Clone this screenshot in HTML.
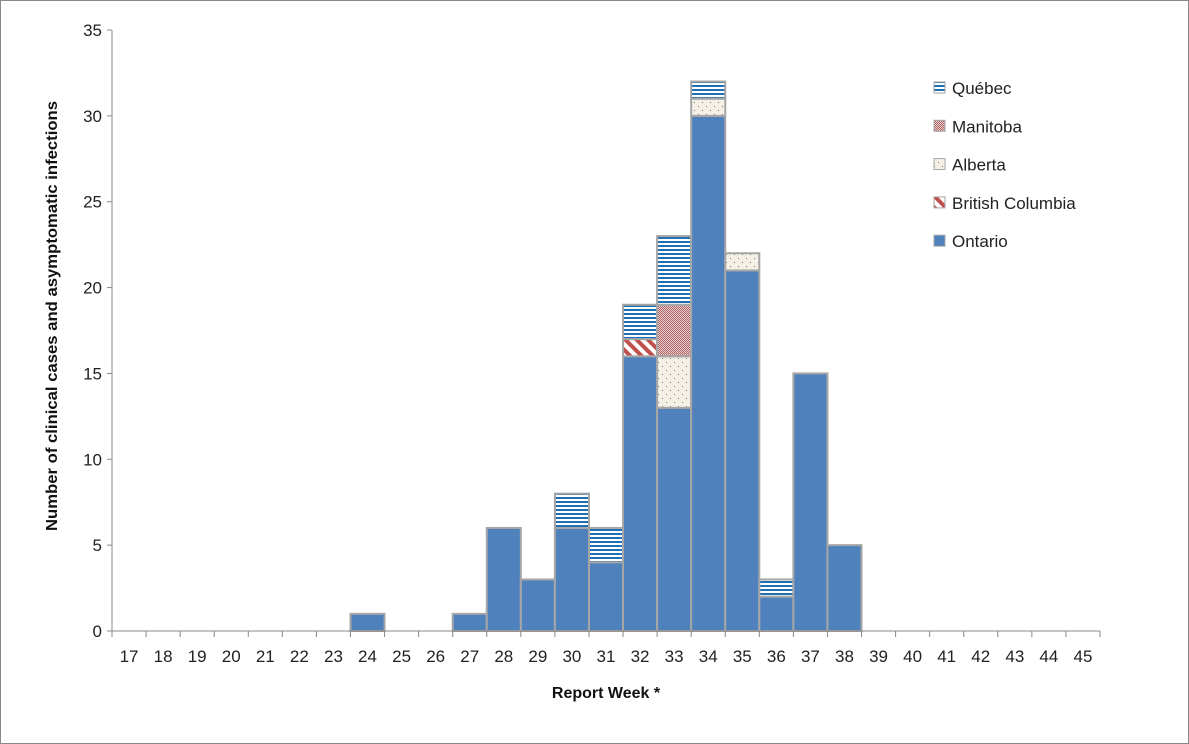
<!DOCTYPE html>
<html><head><meta charset="utf-8"><style>
body{margin:0;background:#fff}
#wrap{position:relative;width:1189px;height:744px;border:1px solid #888;box-sizing:border-box;overflow:hidden}
text{font-family:"Liberation Sans",sans-serif}
</style></head><body>
<div id="wrap">
<svg id="chart" width="1187" height="742">
<defs>
<pattern id="pQ" width="4" height="4" patternUnits="userSpaceOnUse"><rect width="4" height="4" fill="#fff"/><rect width="4" height="2" fill="#1f6fb4"/></pattern>
<pattern id="pM" width="2" height="2" patternUnits="userSpaceOnUse"><rect width="2" height="2" fill="#e6d2d2"/><rect width="1" height="1" fill="#b06060"/><rect x="1" y="1" width="1" height="1" fill="#b06060"/></pattern>
<pattern id="pA" width="8" height="8" patternUnits="userSpaceOnUse"><rect width="8" height="8" fill="#f5f0e6"/><rect x="1" y="1" width="1" height="1" fill="#777"/><rect x="5" y="5" width="1" height="1" fill="#777"/></pattern>
<pattern id="pB" width="8" height="8" patternUnits="userSpaceOnUse" patternTransform="rotate(-45)"><rect width="8" height="8" fill="#fff"/><rect width="4" height="8" fill="#c0504d"/></pattern>
</defs>
<g id="plot"></g>
</svg>
</div>
<script>
const weeks=[17,18,19,20,21,22,23,24,25,26,27,28,29,30,31,32,33,34,35,36,37,38,39,40,41,42,43,44,45];
const ontario=[0,0,0,0,0,0,0,1,0,0,1,6,3,6,4,16,13,30,21,2,15,5,0,0,0,0,0,0,0];
const bc=[0,0,0,0,0,0,0,0,0,0,0,0,0,0,0,1,0,0,0,0,0,0,0,0,0,0,0,0,0];
const alberta=[0,0,0,0,0,0,0,0,0,0,0,0,0,0,0,0,3,1,1,0,0,0,0,0,0,0,0,0,0];
const manitoba=[0,0,0,0,0,0,0,0,0,0,0,0,0,0,0,0,3,0,0,0,0,0,0,0,0,0,0,0,0];
const quebec=[0,0,0,0,0,0,0,0,0,0,0,0,0,2,2,2,4,1,0,1,0,0,0,0,0,0,0,0,0];
const yTicks=[0,5,10,15,20,25,30,35];
const seriesNames=["Ontario","British Columbia","Alberta","Manitoba","Québec"];
const series=[ontario,bc,alberta,manitoba,quebec];
const fills=["#4f81bd","url(#pB)","url(#pA)","url(#pM)","url(#pQ)"];
const X0=111,X1=1099,Y0=630,Y1=29,YMAX=35;
const bw=(X1-X0)/weeks.length;
const x=i=>X0+i*bw;
const y=v=>Y0-(v/YMAX)*(Y0-Y1);
const g=document.getElementById('plot');
const NS="http://www.w3.org/2000/svg";
function el(t,a,p){const e=document.createElementNS(NS,t);for(const k in a)e.setAttribute(k,a[k]);(p||g).appendChild(e);return e;}
let ax=el('line',{x1:X0,y1:Y1,x2:X0,y2:Y0,stroke:'#888'});

yTicks.forEach(t=>{
 const tl=el('line',{x1:X0-5,y1:y(t),x2:X0,y2:y(t),stroke:'#888'});
 
 const tx=el('text',{x:X0-10,y:y(t)+6,'text-anchor':'end','font-size':17,fill:'#222'});
 tx.textContent=t;
 
});
weeks.forEach((w,i)=>{
 let acc=0;
 series.forEach((s,k)=>{
  if(s[i]>0){
   const r=el('rect',{x:x(i),y:y(acc+s[i]),width:bw,height:y(acc)-y(acc+s[i]),fill:fills[k],stroke:'#a6a6a6','stroke-width':2});
   
   
   acc+=s[i];
  }
 });
});
let xa=el('line',{x1:X0,y1:Y0,x2:X1,y2:Y0,stroke:'#888'});

weeks.forEach((w,i)=>{
 const tl=el('line',{x1:x(i),y1:Y0,x2:x(i),y2:Y0+6,stroke:'#888'});
 
 const tx=el('text',{x:x(i)+bw/2,y:Y0+31,'text-anchor':'middle','font-size':17,fill:'#222'});
 tx.textContent=w;
 
});
el('line',{x1:X1,y1:Y0,x2:X1,y2:Y0+6,stroke:'#888'});
const xt=el('text',{x:605,y:697,'text-anchor':'middle','font-size':16,'font-weight':'bold',fill:'#111'});
xt.textContent='Report Week *';

const yt=el('text',{x:0,y:0,'text-anchor':'middle','font-size':16,'font-weight':'bold',fill:'#111',transform:'translate(56,315) rotate(-90)',textLength:'430',lengthAdjust:'spacingAndGlyphs'});
yt.textContent='Number of clinical cases and asymptomatic infections';

const legOrder=[4,3,2,1,0];
legOrder.forEach((k,j)=>{
 const ly=87+j*38.3;
 const r=el('rect',{x:933,y:ly-6,width:11,height:11,fill:fills[k],stroke:'#a6a6a6'});
 
 const t=el('text',{x:951,y:ly+6,'font-size':17,fill:'#222'});
 t.textContent=seriesNames[k];
 
});
</script>
</body></html>
